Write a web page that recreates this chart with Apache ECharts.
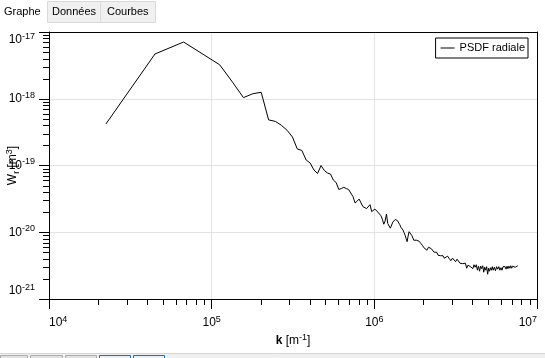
<!DOCTYPE html>
<html><head><meta charset="utf-8">
<script src="https://cdn.jsdelivr.net/npm/echarts@6/dist/echarts.min.js"></script>
<style>html,body{margin:0;padding:0;background:#fff}#c{width:545px;height:358px}</style>
</head><body><div id="c"></div>
<script>
const seriesName = 'PSDF radiale';
const tabLabels = ['Graphe', 'Données', 'Courbes'];
const xAxisMin = 1e4, xAxisMax = 1e7;
// W is plotted in units of 1e-21 m^3 (ECharts rounds values below 1e-20 to zero)
const yUnitExp = -21;
const yAxisMin = 1, yAxisMax = 1e4;

// wave number k [m^-1]
const waveNumbers = [
  22400, 44800, 67200, 89600, 112000, 134400, 156800, 179200, 201600, 224000,
  246400, 268800, 291200, 313600, 336000, 358400, 380800, 403200, 425600, 448000,
  470400, 492800, 515200, 537600, 560000, 582400, 604800, 627200, 649600, 672000,
  694400, 716800, 739200, 761600, 784000, 806400, 828800, 851200, 873600, 896000,
  918400, 940800, 963200, 985600, 1008000, 1030400, 1052800, 1075200, 1097600, 1120000,
  1142400, 1164800, 1187200, 1209600, 1232000, 1254400, 1276800, 1299200, 1321600, 1344000,
  1366400, 1388800, 1411200, 1433600, 1456000, 1478400, 1500800, 1523200, 1545600, 1568000,
  1590400, 1612800, 1635200, 1657600, 1680000, 1702400, 1724800, 1747200, 1769600, 1792000,
  1814400, 1836800, 1859200,
  1881600, 1926400, 1971200, 2016000, 2060800, 2105600, 2150400, 2195200, 2240000, 2284800,
  2329600, 2374400, 2419200, 2464000, 2508800, 2553600, 2598400, 2643200, 2688000,
  2755200, 2822400, 2889600, 2956800, 3024000, 3091200, 3158400, 3225600, 3292800, 3360000,
  3427200, 3494400, 3561600, 3628800, 3696000, 3763200, 3830400, 3897600, 3964800, 4032000,
  4099200, 4166400, 4233600, 4300800, 4368000, 4435200, 4502400, 4569600, 4636800, 4704000,
  4771200, 4838400, 4905600, 4972800, 5040000, 5107200, 5174400, 5241600, 5308800, 5376000,
  5465600, 5555200, 5644800, 5734400, 5824000, 5913600, 6003200, 6092800, 6182400, 6272000,
  6361600, 6451200, 6540800, 6630400, 6720000, 6809600, 6899200, 6988800, 7078400, 7168000,
  7257600, 7347200, 7436800, 7526400, 7616000
];

// radial PSDF W_r [m^3]
const psdValues = [
  4.20e-19, 4.68e-18, 7.08e-18, 4.55e-18, 3.23e-18, 1.77e-18, 1.04e-18, 1.19e-18, 1.25e-18, 4.82e-19,
  4.58e-19, 3.99e-19, 3.36e-19, 2.68e-19, 1.77e-19, 1.68e-19, 1.21e-19, 1.09e-19, 8.55e-20, 7.59e-20,
  1.00e-19, 8.41e-20, 7.71e-20, 7.45e-20, 6.05e-20, 5.56e-20, 4.37e-20, 4.52e-20, 4.71e-20, 4.52e-20,
  4.37e-20, 3.86e-20, 3.43e-20, 2.74e-20, 2.93e-20, 3.14e-20, 2.74e-20, 2.42e-20, 2.26e-20, 2.26e-20,
  2.29e-20, 2.59e-20, 2.04e-20, 2.15e-20, 2.22e-20, 2.19e-20, 2.00e-20, 1.87e-20, 1.77e-20, 1.57e-20,
  1.32e-20, 1.47e-20, 1.87e-20, 1.35e-20, 1.28e-20, 1.15e-20, 1.11e-20, 1.42e-20, 1.52e-20, 1.55e-20,
  1.60e-20, 1.49e-20, 1.42e-20, 1.30e-20, 1.19e-20, 1.13e-20, 1.08e-20, 9.87e-21, 9.04e-21, 8.01e-21,
  7.23e-21, 8.73e-21, 1.02e-20, 1.05e-20, 9.53e-21, 8.89e-21, 8.44e-21, 7.60e-21, 7.23e-21, 7.35e-21,
  7.60e-21, 7.47e-21, 7.60e-21,
  7.35e-21, 6.86e-21, 6.40e-21, 5.87e-21, 5.57e-21, 5.38e-21, 5.97e-21, 6.18e-21, 5.67e-21, 5.47e-21,
  5.02e-21, 4.85e-21, 5.02e-21, 4.53e-21, 4.30e-21, 4.45e-21, 4.69e-21, 4.45e-21, 4.09e-21,
  4.23e-21, 4.38e-21, 4.02e-21, 3.74e-21, 4.09e-21, 3.88e-21, 3.62e-21, 3.95e-21, 4.02e-21, 3.44e-21,
  3.62e-21, 3.38e-21, 3.26e-21, 3.44e-21, 2.89e-21, 3.21e-21, 3.32e-21, 3.05e-21, 3.21e-21, 2.85e-21,
  3.26e-21, 2.99e-21, 3.26e-21, 2.70e-21, 3.10e-21, 2.61e-21, 3.10e-21, 2.85e-21, 3.15e-21, 2.52e-21,
  2.99e-21, 2.70e-21, 3.05e-21, 2.35e-21, 2.89e-21, 2.61e-21, 2.94e-21, 2.70e-21, 3.05e-21, 2.70e-21,
  2.99e-21, 2.65e-21, 3.05e-21, 2.80e-21, 3.05e-21, 2.70e-21, 2.94e-21, 2.70e-21, 3.05e-21, 2.85e-21,
  3.05e-21, 2.80e-21, 3.10e-21, 2.85e-21, 3.10e-21, 2.89e-21, 3.15e-21, 2.89e-21, 3.10e-21, 2.94e-21,
  3.15e-21, 2.99e-21, 3.15e-21, 3.05e-21, 3.15e-21
];

// minor tick positions (2..9 x each decade)
const minorMult = [2, 3, 4, 5, 6, 7, 8, 9];
const xMinor = [], yMinor = [];
for (let e = 4; e < 7; e++) minorMult.forEach(m => xMinor.push(m * Math.pow(10, e)));
for (let e = 0; e < 4; e++) minorMult.forEach(m => yMinor.push(m * Math.pow(10, e)));

const FONT = 'Liberation Sans';
const expRich = {
  b: { fontSize: 12, lineHeight: 16, fontFamily: FONT, color: '#000' },
  s: { fontSize: 9, lineHeight: 10, verticalAlign: 'top', fontFamily: FONT, color: '#000' }
};
const xLabel = v => '{b|10}{s|' + Math.round(Math.log10(v)) + '}';
const yLabel = v => '{b|10}{s|' + (Math.round(Math.log10(v)) + yUnitExp) + '}';

const chart = echarts.init(document.getElementById('c'), null, { renderer: 'canvas' });

const tabGraphics = [
  { type: 'rect', shape: { x: 47.5, y: 1.5, width: 53, height: 21 }, style: { fill: '#f0f0f0', stroke: '#d9d9d9' } },
  { type: 'rect', shape: { x: 100.5, y: 1.5, width: 55, height: 21 }, style: { fill: '#f0f0f0', stroke: '#d9d9d9' } },
  { type: 'text', x: 4, y: 6, style: { text: tabLabels[0], font: '11px "Liberation Sans"', fill: '#000' } },
  { type: 'text', x: 52, y: 6, style: { text: tabLabels[1], font: '11px "Liberation Sans"', fill: '#000' } },
  { type: 'text', x: 107, y: 6, style: { text: tabLabels[2], font: '11px "Liberation Sans"', fill: '#000' } },
  { type: 'rect', shape: { x: 0, y: 353, width: 545, height: 5 }, style: { fill: '#f0f0f0' } },
  { type: 'line', shape: { x1: 0, y1: 353.5, x2: 545, y2: 353.5 }, style: { stroke: '#d7d7d7' } },
  { type: 'rect', shape: { x: 0.5, y: 355.5, width: 27, height: 6 }, style: { fill: '#e1e1e1', stroke: '#adadad' } },
  { type: 'rect', shape: { x: 30.5, y: 355.5, width: 32, height: 6 }, style: { fill: '#e1e1e1', stroke: '#adadad' } },
  { type: 'rect', shape: { x: 65.5, y: 355.5, width: 31, height: 6 }, style: { fill: '#e1e1e1', stroke: '#adadad' } },
  { type: 'rect', shape: { x: 99.5, y: 355.5, width: 31, height: 6 }, style: { fill: '#e5f1fb', stroke: '#0078d7' } },
  { type: 'rect', shape: { x: 133.5, y: 355.5, width: 31, height: 6 }, style: { fill: '#e5f1fb', stroke: '#0078d7' } }
];

chart.setOption({
  animation: false,
  backgroundColor: '#fff',
  graphic: tabGraphics,
  grid: { left: 49, top: 32, right: 8, bottom: 59, outerBoundsMode: 'none', containLabel: false },
  legend: {
    data: [seriesName],
    right: 17, top: 38,
    padding: [4, 3, 4, 5],
    icon: 'rect',
    itemWidth: 14, itemHeight: 1, itemGap: 5,
    borderColor: '#000', borderWidth: 1, backgroundColor: '#fff',
    textStyle: { fontSize: 11, fontFamily: FONT, color: '#000', lineHeight: 12 }
  },
  xAxis: [{
    type: 'log', logBase: 10, min: xAxisMin, max: xAxisMax,
    name: '{k|k}{t| [m}{s|-1}{t|]}',
    nameLocation: 'middle', nameGap: 34, nameMoveOverlap: false,
    nameTextStyle: { rich: {
      k: { fontSize: 12, fontWeight: 'bold', fontFamily: FONT, color: '#000', lineHeight: 16 },
      t: { fontSize: 12, fontFamily: FONT, color: '#000', lineHeight: 16 },
      s: { fontSize: 9, fontFamily: FONT, color: '#000', lineHeight: 10, verticalAlign: 'top' }
    } },
    axisLine: { show: true, lineStyle: { color: '#000', width: 1 } },
    axisTick: { show: true, length: 10, lineStyle: { color: '#000' } },
    axisLabel: { formatter: xLabel, rich: expRich, margin: 16, alignMinLabel: 'left', alignMaxLabel: 'right', showMinLabel: true, showMaxLabel: true },
    splitLine: { show: true, lineStyle: { color: '#e3e3e3', width: 1 } }
  }, {
    type: 'log', logBase: 10, min: xAxisMin, max: xAxisMax, position: 'top',
    axisLine: { show: true, lineStyle: { color: '#000' } },
    axisTick: { show: false }, axisLabel: { show: false }, splitLine: { show: false }
  }],
  yAxis: [{
    type: 'log', logBase: 10, min: yAxisMin, max: yAxisMax,
    name: '{t|W}{u|r}{t| [m}{s|3}{t|]}',
    nameLocation: 'middle', nameGap: 28, nameRotate: 90, nameMoveOverlap: false,
    nameTextStyle: { rich: {
      t: { fontSize: 12, fontFamily: FONT, color: '#000', lineHeight: 16 },
      u: { fontSize: 9, fontFamily: FONT, color: '#000', lineHeight: 10, verticalAlign: 'bottom' },
      s: { fontSize: 9, fontFamily: FONT, color: '#000', lineHeight: 10, verticalAlign: 'top' }
    } },
    axisLine: { show: true, lineStyle: { color: '#000', width: 1 } },
    axisTick: { show: true, length: 10, lineStyle: { color: '#000' } },
    axisLabel: { formatter: yLabel, rich: expRich, margin: 14, verticalAlignMinLabel: 'bottom', verticalAlignMaxLabel: 'top', showMinLabel: true, showMaxLabel: true },
    splitLine: { show: true, lineStyle: { color: '#e3e3e3', width: 1 } }
  }, {
    type: 'log', logBase: 10, min: yAxisMin, max: yAxisMax, position: 'right',
    axisLine: { show: true, lineStyle: { color: '#000' } },
    axisTick: { show: false }, axisLabel: { show: false }, splitLine: { show: false }
  }],
  series: [{
    name: seriesName,
    type: 'line',
    data: waveNumbers.map((k, i) => [k, psdValues[i] / Math.pow(10, yUnitExp)]),
    symbol: 'none', showSymbol: false,
    lineStyle: { color: '#000', width: 1 },
    itemStyle: { color: '#000' },
    z: 5
  }, {
    type: 'custom', name: 'xMinorTicks', silent: true, clip: false,
    data: xMinor.map(v => [v, yAxisMin]),
    renderItem: (params, api) => {
      const p = api.coord([api.value(0), yAxisMin]);
      const x = Math.round(p[0]) + 0.5, y = Math.round(p[1]);
      return { type: 'line', shape: { x1: x, y1: y, x2: x, y2: y + 6 }, style: { stroke: '#000', lineWidth: 1 } };
    }
  }, {
    type: 'custom', name: 'yMinorTicks', silent: true, clip: false,
    data: yMinor.map(v => [xAxisMin, v]),
    renderItem: (params, api) => {
      const p = api.coord([xAxisMin, api.value(1)]);
      const x = Math.round(p[0]), y = Math.round(p[1]) + 0.5;
      return { type: 'line', shape: { x1: x - 6, y1: y, x2: x, y2: y }, style: { stroke: '#000', lineWidth: 1 } };
    }
  }]
});
</script>
</body></html>
